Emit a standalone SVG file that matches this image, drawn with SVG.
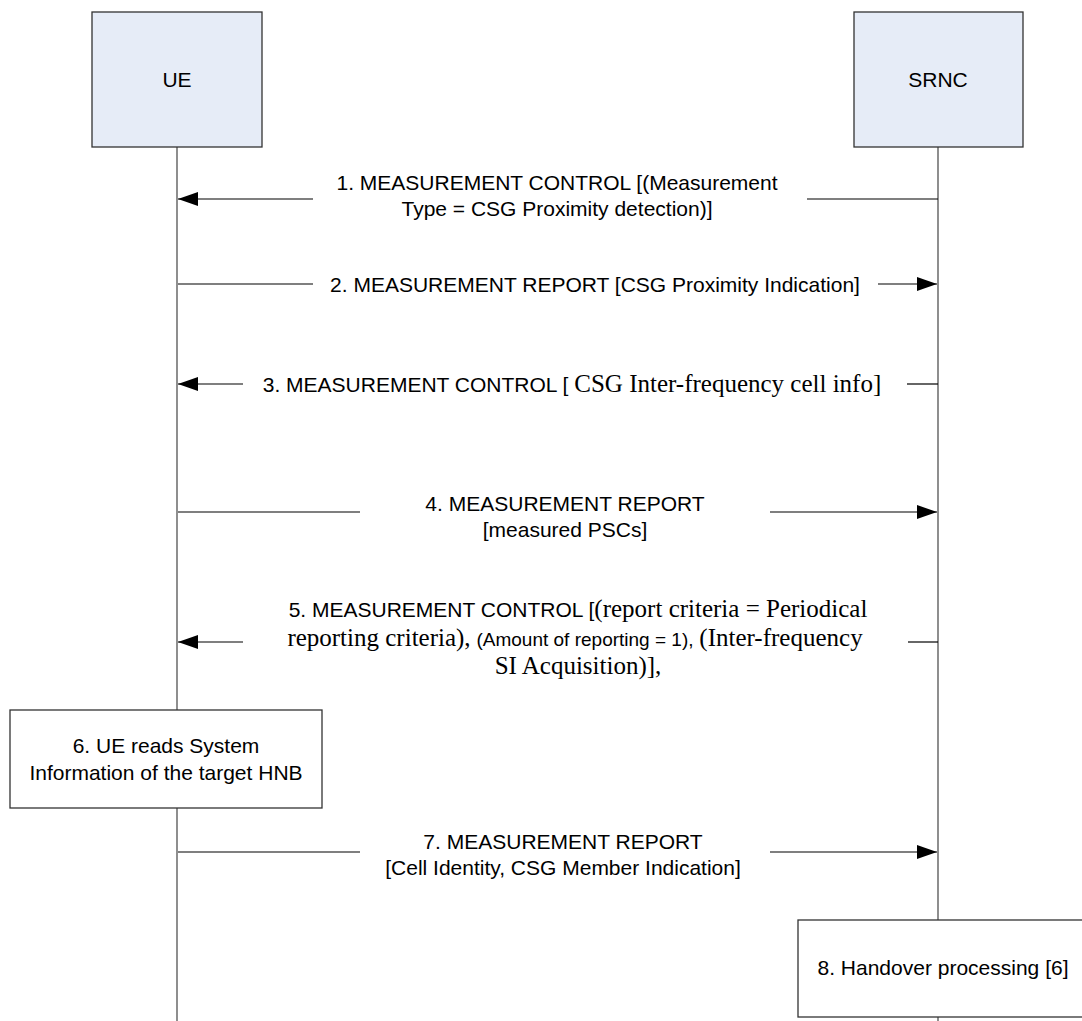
<svg xmlns="http://www.w3.org/2000/svg" width="1082" height="1021" viewBox="0 0 1082 1021">
<style>
.ent{fill:#e6ecf7;stroke:#333;stroke-width:1.3}
.box{fill:#fff;stroke:#333;stroke-width:1.3}
.life{stroke:#444;stroke-width:1.2;fill:none}
.msg{stroke:#000;stroke-width:1.2;fill:none}
.t{font-family:"Liberation Sans",Arial,sans-serif;font-size:21px;fill:#000}
.s{font-family:"Liberation Serif","Times New Roman",serif;font-size:25px}
.a{font-family:"Liberation Sans",Arial,sans-serif;font-size:19px}
</style>
<defs>
<marker id="ah" viewBox="0 0 20 14" refX="20" refY="7" markerWidth="20" markerHeight="14" markerUnits="userSpaceOnUse" orient="auto">
<path d="M0,0 L20,7 L0,14 Z" fill="#000"/>
</marker>
</defs>
<rect width="1082" height="1021" fill="#fff"/>
<g id="lifelines">
<line class="life" x1="177" y1="147" x2="177" y2="710"/>
<line class="life" x1="177" y1="808" x2="177" y2="1021"/>
<line class="life" x1="938" y1="147" x2="938" y2="920"/>
<line class="life" x1="938" y1="1017" x2="938" y2="1021"/>
</g>
<g id="ue">
<rect class="ent" x="92" y="12" width="170" height="135"/>
<text class="t" x="177" y="87" text-anchor="middle">UE</text>
</g>
<g id="srnc">
<rect class="ent" x="854" y="12" width="169" height="135"/>
<text class="t" x="938" y="87" text-anchor="middle">SRNC</text>
</g>
<g id="connectors">
<line class="msg" x1="313" y1="199" x2="178" y2="199" marker-end="url(#ah)"/>
<line class="msg" x1="807" y1="199" x2="938" y2="199"/>
<line class="msg" x1="178" y1="284" x2="313" y2="284"/>
<line class="msg" x1="878" y1="284" x2="937" y2="284" marker-end="url(#ah)"/>
<line class="msg" x1="243" y1="384" x2="178" y2="384" marker-end="url(#ah)"/>
<line class="msg" x1="907" y1="384" x2="938" y2="384"/>
<line class="msg" x1="178" y1="512" x2="360" y2="512"/>
<line class="msg" x1="770" y1="512" x2="937" y2="512" marker-end="url(#ah)"/>
<line class="msg" x1="243" y1="642" x2="178" y2="642" marker-end="url(#ah)"/>
<line class="msg" x1="908" y1="642" x2="938" y2="642"/>
<line class="msg" x1="178" y1="852" x2="360" y2="852"/>
<line class="msg" x1="770" y1="852" x2="937" y2="852" marker-end="url(#ah)"/>
</g>
<g id="m1">
<text class="t" x="557" y="190" text-anchor="middle">1. MEASUREMENT CONTROL [(Measurement</text>
<text class="t" x="557" y="216" text-anchor="middle">Type = CSG Proximity detection)]</text>
</g>
<g id="m2">
<text class="t" x="595" y="292" text-anchor="middle">2. MEASUREMENT REPORT [CSG Proximity Indication]</text>
</g>
<g id="m3">
<text class="t" x="572" y="392" text-anchor="middle">3. MEASUREMENT CONTROL [ <tspan class="s">CSG Inter-frequency cell info]</tspan></text>
</g>
<g id="m4">
<text class="t" x="565" y="511" text-anchor="middle">4. MEASUREMENT REPORT</text>
<text class="t" x="565" y="537" text-anchor="middle">[measured PSCs]</text>
</g>
<g id="m5">
<text class="t" x="578" y="617" text-anchor="middle">5. MEASUREMENT CONTROL [<tspan class="s">(report criteria = Periodical</tspan></text>
<text class="t" x="575" y="646" text-anchor="middle"><tspan class="s">reporting criteria),</tspan> <tspan class="a">(Amount of reporting = 1),</tspan> <tspan class="s">(Inter-frequency</tspan></text>
<text class="t" x="578" y="674" text-anchor="middle"><tspan class="s">SI Acquisition)],</tspan></text>
</g>
<g id="n6">
<rect class="box" x="10" y="710" width="312" height="98"/>
<text class="t" x="166" y="753" text-anchor="middle">6. UE reads System</text>
<text class="t" x="166" y="780" text-anchor="middle">Information of the target HNB</text>
</g>
<g id="m7">
<text class="t" x="563" y="849" text-anchor="middle">7. MEASUREMENT REPORT</text>
<text class="t" x="563" y="875" text-anchor="middle">[Cell Identity, CSG Member Indication]</text>
</g>
<g id="n8">
<rect class="box" x="798" y="920" width="292" height="97"/>
<text class="t" x="943" y="975" text-anchor="middle">8. Handover processing [6]</text>
</g>
</svg>
